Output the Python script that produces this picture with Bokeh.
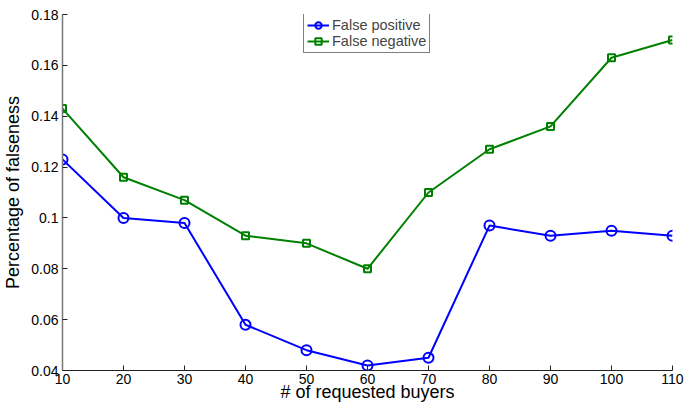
from bokeh.plotting import figure
from bokeh.models import FixedTicker, Range1d
from bokeh.embed import file_html
from bokeh.resources import INLINE

buyers = [10, 20, 30, 40, 50, 60, 70, 80, 90, 100, 110]
false_positive = [0.123, 0.100, 0.098, 0.058, 0.048, 0.042, 0.045, 0.097, 0.093, 0.095, 0.093]
false_negative = [0.143, 0.116, 0.107, 0.093, 0.090, 0.080, 0.110, 0.127, 0.136, 0.163, 0.170]
y_ticks = [0.04, 0.06, 0.08, 0.10, 0.12, 0.14, 0.16, 0.18]
y_tick_labels = ["0.04", "0.06", "0.08", "0.1", "0.12", "0.14", "0.16", "0.18"]
x_ticks = [10, 20, 30, 40, 50, 60, 70, 80, 90, 100, 110]

FONT = "Liberation Sans"

p = figure(frame_width=610, frame_height=356, output_backend="svg", toolbar_location=None,
           x_range=Range1d(10, 110), y_range=Range1d(0.04, 0.18),
           min_border_left=61, min_border_right=13, min_border_top=14, min_border_bottom=34)
p.outline_line_color = None
p.xgrid.grid_line_color = None
p.ygrid.grid_line_color = None
p.background_fill_color = "white"
p.border_fill_color = "white"

p.line(buyers, false_positive, line_color="#0000ff", line_width=2, legend_label="False positive")
p.scatter(buyers, false_positive, marker="circle", size=10, line_color="#0000ff", line_width=2,
          fill_color=None, legend_label="False positive")
p.line(buyers, false_negative, line_color="#008000", line_width=2, legend_label="False negative")
p.scatter(buyers, false_negative, marker="square", size=7, line_color="#008000", line_width=2,
          fill_color=None, legend_label="False negative")

for ax in (p.xaxis[0], p.yaxis[0]):
    ax.major_tick_in = 5
    ax.major_tick_out = 0
    ax.minor_tick_in = 0
    ax.minor_tick_out = 0
    ax.major_label_text_font = FONT
    ax.major_label_text_font_size = "14px"
    ax.major_label_text_color = "black"
    ax.axis_label_text_font = FONT
    ax.axis_label_text_font_size = "18px"
    ax.axis_label_text_font_style = "normal"
    ax.axis_label_text_color = "black"

p.xaxis[0].ticker = FixedTicker(ticks=x_ticks)
p.yaxis[0].ticker = FixedTicker(ticks=y_ticks)
p.yaxis[0].major_label_overrides = {t: l for t, l in zip(y_ticks, y_tick_labels)}
p.xaxis[0].axis_label = "# of requested buyers"
p.yaxis[0].axis_label = "Percentage of falseness"
p.xaxis[0].major_label_standoff = 3
p.yaxis[0].major_label_standoff = 4
p.xaxis[0].axis_label_standoff = -5
p.yaxis[0].axis_label_standoff = 5
p.xaxis[0].axis_line_color = "#222222"
p.xaxis[0].major_tick_line_color = "#222222"
p.yaxis[0].axis_line_color = "#777777"
p.yaxis[0].axis_line_width = 1.5
p.yaxis[0].major_tick_line_color = "#222222"

lg = p.legend[0]
lg.location = (241, 317)
lg.border_line_color = "black"
lg.border_line_width = 1
lg.label_text_font = FONT
lg.label_text_font_size = "14.5px"
lg.padding = 3
lg.margin = 0
lg.spacing = 0
lg.label_height = 16
lg.glyph_height = 16
lg.glyph_width = 22
lg.label_standoff = 3
lg.background_fill_alpha = 1.0

open("out.html", "w").write(file_html(p, INLINE))
